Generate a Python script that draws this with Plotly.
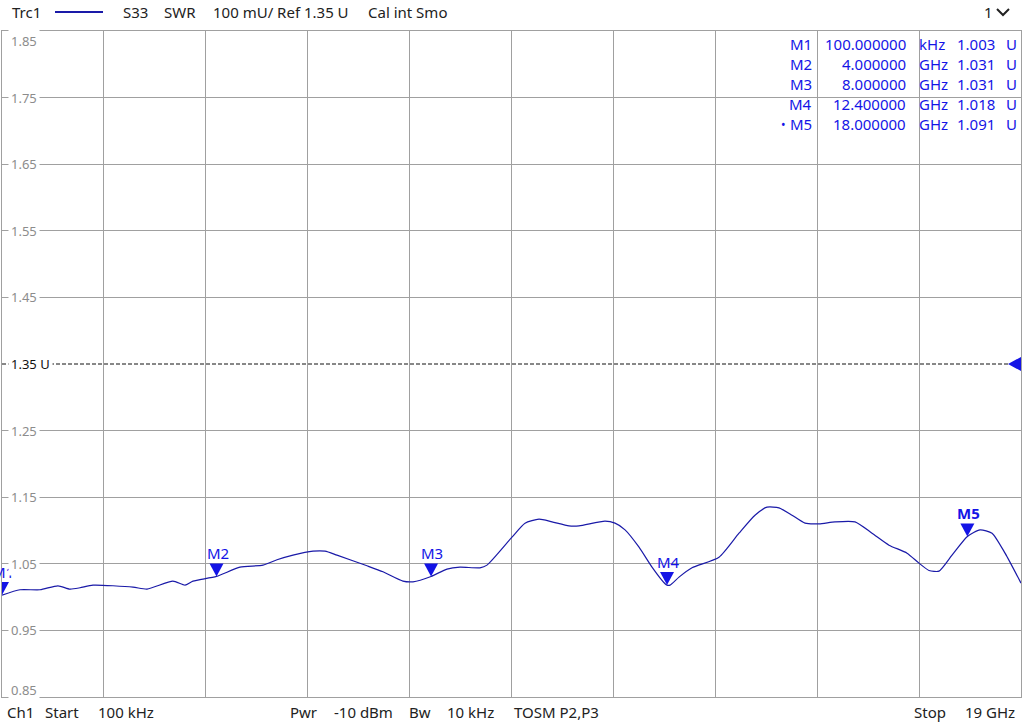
import plotly.graph_objects as go

# ---------------- data ----------------
freq_ghz = [0.0001, 0.336, 0.709, 1.044, 1.268, 1.454, 1.697, 2.443, 2.704, 3.188,
            3.412, 3.561, 4.0, 4.438, 4.867, 5.128, 5.426, 5.799, 6.023, 6.246,
            6.806, 7.104, 7.477, 7.663, 8.0, 8.297, 8.539, 8.912, 9.043, 9.509,
            9.752, 10.013, 10.255, 10.572, 10.759, 11.244, 11.430, 11.617, 11.878, 12.120,
            12.363, 12.4, 12.456, 12.623, 12.866, 13.369, 13.742, 14.040, 14.264, 14.488,
            14.730, 14.973, 15.234, 15.532, 15.905, 16.222, 16.539, 16.875, 17.098, 17.285,
            17.471, 17.714, 18.0, 18.236, 18.460, 18.702, 19.0]
swr = [1.003, 1.011, 1.011, 1.017, 1.012, 1.014, 1.018, 1.015, 1.012, 1.024,
       1.018, 1.024, 1.031, 1.045, 1.048, 1.056, 1.063, 1.069, 1.069, 1.063,
       1.047, 1.038, 1.024, 1.023, 1.031, 1.042, 1.045, 1.044, 1.048, 1.090,
       1.111, 1.117, 1.113, 1.107, 1.107, 1.114, 1.111, 1.101, 1.075, 1.045,
       1.020, 1.018, 1.018, 1.030, 1.044, 1.060, 1.096, 1.123, 1.135, 1.134,
       1.123, 1.111, 1.110, 1.113, 1.113, 1.096, 1.078, 1.066, 1.051, 1.040,
       1.039, 1.063, 1.091, 1.101, 1.096, 1.066, 1.021]

marker_names = ["M1", "M2", "M3", "M4", "M5"]
marker_freq = [0.0001, 4.0, 8.0, 12.4, 18.0]
marker_vals = [1.003, 1.031, 1.031, 1.018, 1.091]
marker_stim = ["100.000000", "4.000000", "8.000000", "12.400000", "18.000000"]
marker_unit = ["kHz", "GHz", "GHz", "GHz", "GHz"]
active_marker = "M5"

y_ticks = [1.85, 1.75, 1.65, 1.55, 1.45, 1.35, 1.25, 1.15, 1.05, 0.95, 0.85]
y_tick_labels = ["1.85", "1.75", "1.65", "1.55", "1.45", "1.35 U", "1.25", "1.15", "1.05", "0.95", "0.85"]
ref_value = 1.35

start_ghz = 0.0001
stop_ghz = 19.0
n_xdiv = 10
y_min, y_max = 0.85, 1.85

header_items = ["S33", "SWR", "100 mU/ Ref 1.35 U", "Cal int Smo"]
footer_items = ["Ch1", "Start", "100 kHz", "Pwr", "-10 dBm", "Bw", "10 kHz", "TOSM P2,P3", "Stop", "19 GHz"]

# ---------------- layout constants ----------------
W, H = 1024, 726
L, R, T, B = 2, 3, 31, 29
PW, PH = W - L - R, H - T - B

def xp(px):
    return (px - L) / PW

def yp(py):
    return (H - B - py) / PH

FONT = "Noto Sans"
GRID = "#a0a0a0"
TRACE = "#1a1aa8"
MBLUE = "#1414e6"
TXT = "#222222"
HF = 15  # header/footer font size

fig = go.Figure()

# trace
fig.add_trace(go.Scatter(x=freq_ghz, y=swr, mode="lines",
                         line=dict(color=TRACE, width=1.2, shape="spline", smoothing=0.6),
                         hoverinfo="skip", showlegend=False))

# marker triangles (tip on the trace), pixel-sized shapes anchored at the data point
for n, f, v in zip(marker_names, marker_freq, marker_vals):
    fig.add_shape(type="path", xref="x", yref="y", xsizemode="pixel", ysizemode="pixel",
                  xanchor=f, yanchor=v, path="M -7,13 L 7,13 L 0,0 Z",
                  fillcolor=MBLUE, line=dict(width=0), layer="above")
    txt = f"<b>{n}</b>" if n == active_marker else n
    fig.add_annotation(x=f, y=v, xref="x", yref="y", text=txt, showarrow=False,
                       yshift=23, xshift=1, font=dict(family=FONT, size=15, color=MBLUE))

# grid ticks excluding the reference line value
grid_vals = [v for v in y_ticks if abs(v - ref_value) > 1e-9]
dx = (stop_ghz - start_ghz) / n_xdiv

fig.update_xaxes(range=[start_ghz, stop_ghz], tick0=start_ghz, dtick=dx,
                 showgrid=True, gridcolor=GRID, gridwidth=1, showticklabels=False,
                 zeroline=False, showline=True, linecolor=GRID, linewidth=1, mirror=True,
                 ticks="")
fig.update_yaxes(range=[y_min, y_max], tickvals=grid_vals,
                 showgrid=True, gridcolor=GRID, gridwidth=1, showticklabels=False,
                 zeroline=False, showline=True, linecolor=GRID, linewidth=1, mirror=True,
                 ticks="")

# reference dashed line
fig.add_shape(type="line", xref="paper", yref="y", x0=0, x1=1, y0=ref_value, y1=ref_value,
              line=dict(color="#111111", width=1, dash="4px,2px"), layer="below")
# reference triangle at right edge
fig.add_shape(type="path", xref="paper", yref="y", ysizemode="pixel", yanchor=ref_value,
              path=f"M {xp(1021)},7 L {xp(1008)},0 L {xp(1021)},-7 Z",
              fillcolor=MBLUE, line=dict(width=0))

# y tick labels inside the plot with white background
for v, lab in zip(y_ticks, y_tick_labels):
    is_ref = abs(v - ref_value) < 1e-9
    yshift = 0
    if v == y_max:
        yshift = -10
    if v == y_min:
        yshift = 7
    fig.add_annotation(x=xp(8), y=v, xref="paper", yref="y", text=lab, showarrow=False,
                       xanchor="left", yanchor="middle", yshift=yshift,
                       bgcolor="white", borderpad=2,
                       font=dict(family=FONT, size=13, color="#111111" if is_ref else "#8c8c8c"))

# header
fig.add_annotation(x=xp(10), y=yp(12), xref="paper", yref="paper", text="Trc1", showarrow=False,
                   xanchor="left", yanchor="middle", font=dict(family=FONT, size=HF, color=TXT))
fig.add_shape(type="line", xref="paper", yref="paper", x0=xp(55), x1=xp(103), y0=yp(12), y1=yp(12),
              line=dict(color=TRACE, width=2))
header_x = [121, 162, 211, 366]
for hx, t in zip(header_x, header_items):
    fig.add_annotation(x=xp(hx), y=yp(12), xref="paper", yref="paper", text=t, showarrow=False,
                       xanchor="left", yanchor="middle", font=dict(family=FONT, size=HF, color=TXT))
fig.add_annotation(x=xp(995), y=yp(12), xref="paper", yref="paper", text="1", showarrow=False,
                   xanchor="right", yanchor="middle", font=dict(family=FONT, size=HF, color=TXT))
fig.add_shape(type="path", xref="paper", yref="paper",
              path=f"M {xp(997)},{yp(9)} L {xp(1003)},{yp(15)} L {xp(1009)},{yp(9)}",
              line=dict(color=TXT, width=2))

# footer
footer_x = [5, 43, 96, 288, 332, 407, 445, 512, 912, 963]
for fx, t in zip(footer_x, footer_items):
    fig.add_annotation(x=xp(fx), y=yp(712), xref="paper", yref="paper", text=t, showarrow=False,
                       xanchor="left", yanchor="middle", font=dict(family=FONT, size=HF, color=TXT))

# marker table
for i, (n, s, u, v) in enumerate(zip(marker_names, marker_stim, marker_unit, marker_vals)):
    ry = yp(44 + 20 * i)
    f = dict(family=FONT, size=15, color=MBLUE)
    if n == active_marker:
        fig.add_annotation(x=xp(783), y=ry, xref="paper", yref="paper", text="•", showarrow=False,
                           xanchor="center", yanchor="middle", font=dict(family=FONT, size=12, color=MBLUE))
    fig.add_annotation(x=xp(814), y=ry, xref="paper", yref="paper", text=n, showarrow=False,
                       xanchor="right", yanchor="middle", font=f)
    fig.add_annotation(x=xp(908), y=ry, xref="paper", yref="paper", text=s, showarrow=False,
                       xanchor="right", yanchor="middle", font=f)
    fig.add_annotation(x=xp(917), y=ry, xref="paper", yref="paper", text=u, showarrow=False,
                       xanchor="left", yanchor="middle", font=f)
    fig.add_annotation(x=xp(997), y=ry, xref="paper", yref="paper", text=f"{v:.3f}", showarrow=False,
                       xanchor="right", yanchor="middle", font=f)
    fig.add_annotation(x=xp(1004), y=ry, xref="paper", yref="paper", text="U", showarrow=False,
                       xanchor="left", yanchor="middle", font=f)

fig.update_layout(width=W, height=H, margin=dict(l=L, r=R, t=T, b=B, pad=0),
                  paper_bgcolor="white", plot_bgcolor="white", showlegend=False,
                  font=dict(family=FONT), hovermode=False)

fig.write_html("out.html", config={"displayModeBar": False, "staticPlot": True},
               post_script="document.body.style.margin='0';document.body.style.padding='0';"
                           "document.documentElement.style.overflow='hidden';")
